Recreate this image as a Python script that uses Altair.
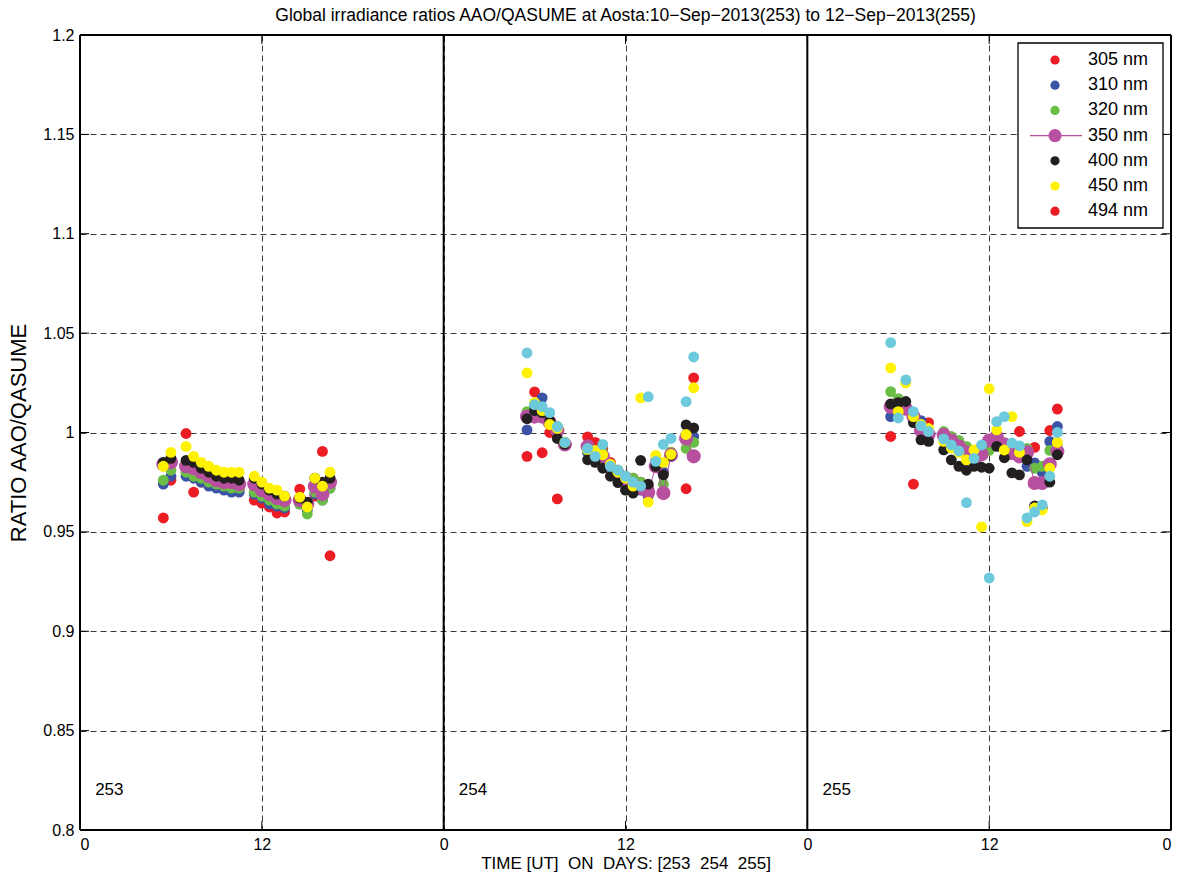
import altair as alt
import pandas as pd

# ---------------------------------------------------------------- data
SERIES = ["305 nm", "310 nm", "320 nm", "350 nm", "400 nm", "450 nm", "494 nm"]
LEGEND_COLORS = ["#ec1c24", "#3a53a4", "#6abd45", "#b7509f", "#231f20", "#fff200", "#ec1c24"]
CYAN = "#6dcadc"
MAGENTA = "#b7509f"
DAYS = [253, 254, 255]

X_TICKS = [0, 12, 24, 36, 48, 60, 72]
Y_TICKS = [0.8, 0.85, 0.9, 0.95, 1.0, 1.05, 1.1, 1.15, 1.2]

# day 253
HOURS_253 = [5.5, 6.0, 7.0, 7.5, 8.0, 8.5, 9.0, 9.5, 10.0, 10.5,
             11.5, 12.0, 12.5, 13.0, 13.5, 14.5, 15.0, 15.5, 16.0, 16.5]
D253 = {
    "305 nm": [0.957, 0.976, 0.9995, 0.970, 0.975, 0.974, 0.973, 0.972, 0.972, 0.971,
               0.966, 0.9645, 0.9625, 0.9595, 0.960, 0.9715, 0.964, 0.968, 0.9905, 0.938],
    "310 nm": [0.974, 0.978, 0.978, 0.977, 0.975, 0.973, 0.972, 0.971, 0.970, 0.970,
               0.969, 0.967, 0.964, 0.963, 0.962, 0.964, 0.961, 0.969, 0.966, 0.972],
    "320 nm": [0.976, 0.981, 0.980, 0.978, 0.977, 0.975, 0.974, 0.973, 0.972, 0.972,
               0.970, 0.968, 0.966, 0.964, 0.963, 0.964, 0.959, 0.970, 0.966, 0.972],
    "350 nm": [0.984, 0.985, 0.983, 0.982, 0.980, 0.978, 0.976, 0.975, 0.975, 0.974,
               0.974, 0.971, 0.969, 0.967, 0.966, 0.966, 0.964, 0.973, 0.969, 0.975],
    "400 nm": [0.985, 0.987, 0.986, 0.985, 0.982, 0.980, 0.978, 0.977, 0.977, 0.976,
               0.977, 0.974, 0.971, 0.969, 0.968, 0.967, 0.965, 0.977, 0.975, 0.977],
    "450 nm": [0.983, 0.990, 0.993, 0.988, 0.985, 0.983, 0.981, 0.980, 0.980, 0.980,
               0.978, 0.975, 0.972, 0.971, 0.968, 0.9675, 0.9625, 0.977, 0.973, 0.980],
}

# day 254
HOURS_254 = [5.5, 6.0, 6.5, 7.0, 7.5, 8.0, 9.5, 10.0, 10.5, 11.0,
             11.5, 12.0, 12.5, 13.0, 13.5, 14.0, 14.5, 15.0, 16.0, 16.5]
D254 = {
    "305 nm": [0.988, 1.0204, 0.9898, 1.000, 0.9666, 0.995, 0.9978, 0.995, 0.992, 0.985,
               0.981, 0.978, 0.977, 0.975, 0.973, 0.986, 0.980, 0.990, 0.9717, 1.0275],
    "310 nm": [1.0013, 1.013, 1.0174, 1.006, 1.002, 0.995, 0.990, 0.989, 0.987, 0.982,
               0.979, 0.976, 0.974, 0.971, 0.968, 0.984, 0.980, 0.988, 0.999, 0.998],
    "320 nm": [1.0105, 1.012, 1.011, 1.005, 1.003, 0.995, 0.991, 0.990, 0.990, 0.984,
               0.981, 0.978, 0.977, 0.975, 0.972, 0.985, 0.974, 0.990, 0.992, 0.995],
    "350 nm": [1.008, 1.008, 1.008, 1.005, 1.001, 0.994, 0.993, 0.989, 0.988, 0.982,
               0.979, 0.976, 0.974, 0.972, 0.970, 0.983, 0.9695, 0.9887, 0.997, 0.988],
    "400 nm": [1.007, 1.011, 1.010, 1.006, 0.997, 0.994, 0.9863, 0.985, 0.982, 0.978,
               0.9748, 0.971, 0.9695, 0.986, 0.974, 0.983, 0.9787, 0.9885, 1.0038, 1.0023],
    "450 nm": [1.030, 1.015, 1.011, 1.004, 1.002, 0.995, 0.9915, 0.991, 0.9888, 0.984,
               0.980, 0.977, 0.973, 1.0174, 0.965, 0.9885, 0.985, 0.989, 0.999, 1.0225],
    "494 nm": [1.040, 1.014, 1.013, 1.010, 1.003, 0.995, 0.992, 0.988, 0.994, 0.983,
               0.981, 0.978, 0.975, 0.973, 1.018, 0.9855, 0.994, 0.997, 1.0155, 1.038],
}

# day 255
HOURS_255 = [5.5, 6.0, 6.5, 7.0, 7.5, 8.0, 9.0, 9.5, 10.0, 10.5, 11.0,
             11.5, 12.0, 12.5, 13.0, 13.5, 14.0, 14.5, 15.0, 15.5, 16.0, 16.5]
D255 = {
    "305 nm": [0.998, 1.010, 1.012, 0.974, 1.004, 1.005, 1.000, 0.997, 0.994, 0.991, 0.988,
               0.990, 0.994, 0.998, 0.994, 0.990, 1.0005, 0.990, 0.9925, 0.980, 1.001, 1.0118],
    "310 nm": [1.008, 1.012, 1.012, 1.007, 1.006, 1.001, 0.998, 0.996, 0.993, 0.990, 0.988,
               0.993, 0.995, 0.996, 0.993, 0.989, 0.988, 0.983, 0.9847, 0.980, 0.9955, 1.003],
    "320 nm": [1.0206, 1.017, 1.013, 1.009, 1.004, 1.001, 1.0005, 0.998, 0.996, 0.993, 0.990,
               0.990, 0.991, 0.995, 0.993, 0.990, 0.990, 0.992, 0.982, 0.983, 0.991, 0.994],
    "350 nm": [1.013, 1.014, 1.012, 1.008, 1.001, 0.999, 0.9988, 0.996, 0.993, 0.990, 0.986,
               0.989, 0.996, 0.998, 0.994, 0.9897, 0.988, 0.990, 0.9746, 0.9746, 0.984, 0.9905],
    "400 nm": [1.0144, 1.015, 1.0156, 1.005, 0.9963, 0.9955, 0.9913, 0.9862, 0.983, 0.981, 0.983,
               0.9825, 0.982, 0.993, 0.9873, 0.9797, 0.9787, 0.9862, 0.963, 0.962, 0.975, 0.9888],
    "450 nm": [1.0325, 1.0105, 1.025, 1.008, 1.004, 1.002, 0.9955, 0.9922, 0.990, 0.9862, 0.9912,
               0.9525, 1.022, 1.0013, 0.9912, 1.008, 0.990, 0.9552, 0.962, 0.961, 0.982, 0.995],
    "494 nm": [1.0452, 1.0073, 1.0265, 1.0105, 1.0033, 1.0005, 0.9968, 0.9937, 0.9907, 0.9647, 0.987,
               0.9937, 0.9268, 1.0055, 1.008, 0.9947, 0.9933, 0.957, 0.960, 0.9636, 0.978, 1.000],
}

HOURS = {253: HOURS_253, 254: HOURS_254, 255: HOURS_255}
VALUES = {253: D253, 254: D254, 255: D255}

TITLE = "Global irradiance ratios AAO/QASUME at Aosta:10\u2212Sep\u22122013(253) to 12\u2212Sep\u22122013(255)"
X_TITLE = "TIME [UT]\u00a0\u00a0ON\u00a0\u00a0DAYS: [253\u00a0\u00a0254\u00a0\u00a0255]"
Y_TITLE = "RATIO AAO/QASUME"

# ---------------------------------------------------------------- table
rows = []
for d_idx, day in enumerate(DAYS):
    hours = HOURS[day]
    # consecutive half-hourly samples form one run; a missing slot starts a new run
    run_ids = []
    run = 0
    for i, h in enumerate(hours):
        if i > 0 and h - hours[i - 1] > 0.6:
            run += 1
        run_ids.append(f"{day}-{run}")
    for s in SERIES:
        vals = VALUES[day].get(s)
        if vals is None:
            continue
        for h, v, r in zip(hours, vals, run_ids):
            rows.append({"series": s, "t": d_idx * 24 + h, "ratio": v, "run": r})
df = pd.DataFrame(rows)

FONT = "Liberation Sans"
GRID = "#3a3a3a"
W, H = 1091, 795

x_scale = alt.Scale(domain=[0, 72], nice=False, zero=False)
y_scale = alt.Scale(domain=[0.8, 1.2], nice=False, zero=False)
color_scale = alt.Scale(domain=SERIES, range=LEGEND_COLORS)

x_axis = alt.Axis(values=X_TICKS, labelExpr="datum.value % 24 == 0 ? '0' : '12'",
                  title=X_TITLE, grid=True, gridDash=[6, 4], gridColor=GRID, gridWidth=1,
                  ticks=False, domain=False, labelFontSize=16, labelPadding=6,
                  labelColor="black", labelFont=FONT, titleFont=FONT, titleFontSize=17,
                  titleFontWeight="normal", titleColor="black", titlePadding=3)
y_axis = alt.Axis(values=Y_TICKS, format="~g", title=Y_TITLE, grid=True, gridDash=[6, 4],
                  gridColor=GRID, gridWidth=1, ticks=False, domain=False, labelFontSize=16,
                  labelPadding=6, labelColor="black", labelFont=FONT, titleFont=FONT,
                  titleFontSize=22, titleFontWeight="normal", titleColor="black", titlePadding=12)

base = alt.Chart(df)

# axes and dashed grid (invisible carrier layer)
grid_layer = base.mark_point(opacity=0).encode(
    x=alt.X("t:Q", scale=x_scale, axis=x_axis),
    y=alt.Y("ratio:Q", scale=y_scale, axis=y_axis),
)

X = alt.X("t:Q", scale=x_scale)
Y = alt.Y("ratio:Q", scale=y_scale)

def pts(series_list, size):
    return base.transform_filter(
        alt.FieldOneOfPredicate(field="series", oneOf=series_list)
    ).mark_circle(opacity=1, size=size).encode(
        x=X, y=Y, color=alt.Color("series:N", scale=color_scale, legend=None))

DOT = 118
BIG_DOT = 200
low = pts(["305 nm", "310 nm", "320 nm"], DOT)
mag_line = base.transform_filter(alt.datum.series == "350 nm").mark_line(
    color=MAGENTA, strokeWidth=1).encode(x=X, y=Y, detail="run:N")
mag = pts(["350 nm"], BIG_DOT)
high = pts(["400 nm", "450 nm"], DOT)
cyan = base.transform_filter(alt.datum.series == "494 nm").mark_circle(
    opacity=1, size=DOT, color=CYAN).encode(x=X, y=Y)

# day separators and frame
frame_x = alt.Chart(pd.DataFrame({"t": [0, 24, 48, 72]})).mark_rule(
    color="black", strokeWidth=2).encode(x=alt.X("t:Q", scale=x_scale))
frame_y = alt.Chart(pd.DataFrame({"v": [Y_TICKS[0], Y_TICKS[-1]]})).mark_rule(
    color="black", strokeWidth=2).encode(y=alt.Y("v:Q", scale=y_scale))

# inward tick marks on all four sides
xt = pd.DataFrame({"t": X_TICKS})
yt = pd.DataFrame({"v": Y_TICKS})
tick_b = alt.Chart(xt).mark_rule(color="black").encode(
    x=alt.X("t:Q", scale=x_scale), y=alt.value(H), y2=alt.value(H - 9))
tick_t = alt.Chart(xt).mark_rule(color="black").encode(
    x=alt.X("t:Q", scale=x_scale), y=alt.value(0), y2=alt.value(9))
tick_l = alt.Chart(yt).mark_rule(color="black").encode(
    y=alt.Y("v:Q", scale=y_scale), x=alt.value(0), x2=alt.value(9))
tick_r = alt.Chart(yt).mark_rule(color="black").encode(
    y=alt.Y("v:Q", scale=y_scale), x=alt.value(W), x2=alt.value(W - 9))

# day numbers in the lower-left corner of each day panel
day_df = pd.DataFrame({"t": [i * 24 + 1 for i in range(len(DAYS))],
                       "v": [0.82] * len(DAYS),
                       "label": [str(d) for d in DAYS]})
day_text = alt.Chart(day_df).mark_text(
    align="left", baseline="middle", fontSize=17, font=FONT, color="black").encode(
    x=alt.X("t:Q", scale=x_scale), y=alt.Y("v:Q", scale=y_scale), text="label:N")

# ---------------------------------------------------------------- legend box (top right)
LEG_BOX = dict(x=alt.value(938), x2=alt.value(1083), y=alt.value(8), y2=alt.value(193))
LEG_ROW0, LEG_STEP = 25.0, 25.2          # first row centre and row spacing, px
LEG_SYM_X, LEG_TEXT_X = 975, 1008
LEG_LINE = dict(x=alt.value(950), x2=alt.value(1002))

leg_df = pd.DataFrame({"series": SERIES, "row": list(range(len(SERIES)))})
leg_base = alt.Chart(leg_df).transform_calculate(
    py=f"{LEG_ROW0} + datum.row * {LEG_STEP}")
PY = alt.Y("py:Q", scale=None)

leg_box = alt.Chart(pd.DataFrame({"k": [0]})).mark_rect(
    fill="white", stroke="black", strokeWidth=1.3).encode(**LEG_BOX)
leg_line = leg_base.transform_filter(alt.datum.series == "350 nm").mark_rule(
    color=MAGENTA, strokeWidth=1.3).encode(y=PY, **LEG_LINE)
leg_dots = leg_base.mark_circle(opacity=1).encode(
    x=alt.value(LEG_SYM_X), y=PY,
    color=alt.Color("series:N", scale=color_scale, legend=None),
    size=alt.condition(alt.datum.series == "350 nm", alt.value(175), alt.value(85)))
leg_text = leg_base.mark_text(
    align="left", baseline="middle", fontSize=18, font=FONT, color="black").encode(
    x=alt.value(LEG_TEXT_X), y=PY, text="series:N")

chart = alt.layer(
    grid_layer, tick_b, tick_t, tick_l, tick_r,
    low, mag_line, mag, high, cyan,
    frame_x, frame_y, day_text,
    leg_box, leg_line, leg_dots, leg_text,
).properties(
    width=W, height=H,
    title=alt.TitleParams(TITLE, fontSize=17.5, font=FONT, fontWeight="normal",
                          color="black", anchor="middle", offset=3, frame="group"),
    padding={"left": 80, "top": 35, "right": 13, "bottom": 57},
    autosize=alt.AutoSizeParams(type="none"),
).configure_view(stroke=None).configure(background="white")

chart.save("out.html", embed_options={"renderer": "svg", "actions": False})
